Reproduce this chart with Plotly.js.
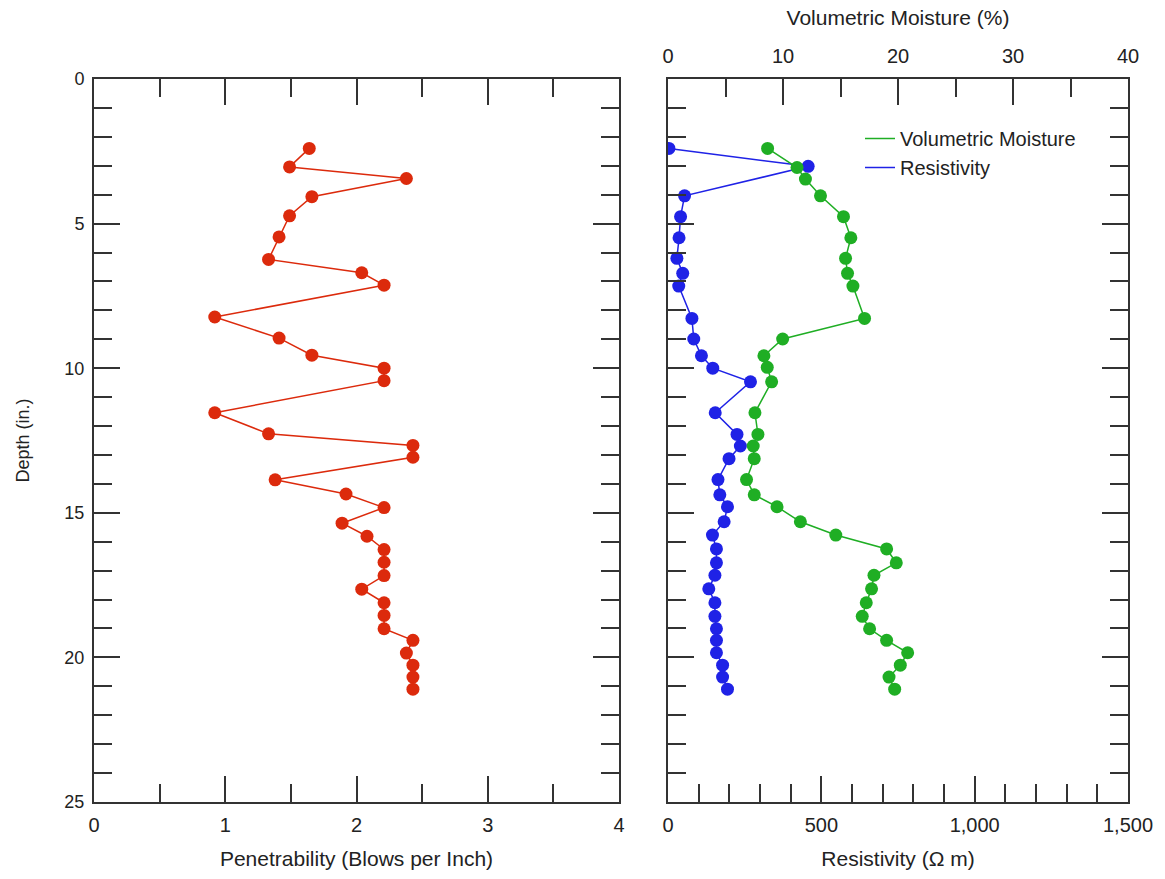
<!DOCTYPE html>
<html>
<head>
<meta charset="utf-8">
<script src="https://cdn.plot.ly/plotly-3.0.1.min.js"></script>
<style>html,body{margin:0;padding:0;background:#fff;}#chart{width:1165px;height:879px;}</style>
</head>
<body>
<div id="chart"></div>
<script>
// Penetrability (left panel)
const penDepth = [2.40, 3.04, 3.44, 4.07, 4.73, 5.46, 6.24, 6.70, 7.13, 8.23, 8.96, 9.55, 10.00, 10.43, 11.54, 12.27, 12.67, 13.08, 13.86, 14.35, 14.82, 15.36, 15.81, 16.27, 16.71, 17.17, 17.64, 18.11, 18.55, 19.01, 19.41, 19.85, 20.27, 20.68, 21.10];
const penetrability = [1.64, 1.49, 2.38, 1.66, 1.49, 1.41, 1.33, 2.04, 2.21, 0.92, 1.41, 1.66, 2.21, 2.21, 0.92, 1.33, 2.43, 2.43, 1.38, 1.92, 2.21, 1.89, 2.08, 2.21, 2.21, 2.21, 2.04, 2.21, 2.21, 2.21, 2.43, 2.38, 2.43, 2.43, 2.43];

// Volumetric moisture (right panel, top axis)
const moistDepth = [2.40, 3.06, 3.46, 4.04, 4.76, 5.49, 6.20, 6.72, 7.16, 8.28, 8.99, 9.57, 9.97, 10.47, 11.54, 12.29, 12.69, 13.13, 13.85, 14.38, 14.79, 15.31, 15.77, 16.25, 16.73, 17.16, 17.63, 18.11, 18.58, 19.01, 19.41, 19.84, 20.27, 20.68, 21.10];
const moisture = [8.66, 11.22, 11.95, 13.26, 15.26, 15.90, 15.44, 15.61, 16.08, 17.09, 9.97, 8.34, 8.63, 9.01, 7.56, 7.82, 7.41, 7.50, 6.83, 7.50, 9.48, 11.51, 14.59, 19.01, 19.85, 17.91, 17.70, 17.24, 16.89, 17.53, 19.01, 20.84, 20.20, 19.22, 19.71];

// Resistivity (right panel, bottom axis)
const resDepth = [2.40, 3.02, 4.04, 4.76, 5.49, 6.20, 6.72, 7.16, 8.28, 8.99, 9.57, 10.00, 10.47, 11.54, 12.29, 12.69, 13.13, 13.85, 14.38, 14.79, 15.31, 15.77, 16.25, 16.73, 17.16, 17.63, 18.11, 18.58, 19.01, 19.41, 19.84, 20.27, 20.68, 21.10];
const resistivity = [3, 457, 54, 41, 36, 29, 48, 35, 78, 84, 109, 146, 269, 154, 225, 236, 199, 163, 169, 194, 183, 145, 158, 158, 153, 133, 153, 153, 158, 158, 158, 178, 178, 194];

const RED = '#dc2a0c', GREEN = '#1fae24', BLUE = '#1f22e6', AX = '#333333';
const FAM = 'Liberation Sans, Arial, sans-serif';
const FONT = {family: FAM, size: 18, color: '#222'};
const XTICK = {family: FAM, size: 20, color: '#222'};
const XTITLE = {family: FAM, size: 21, color: '#222'};

const traces = [
  {x: penetrability, y: penDepth, xaxis: 'x', yaxis: 'y', mode: 'lines+markers', showlegend: false,
   line: {color: RED, width: 1.5}, marker: {color: RED, size: 13}},
  {x: moisture, y: moistDepth, xaxis: 'x3', yaxis: 'y2', mode: 'lines', name: 'Volumetric Moisture',
   line: {color: GREEN, width: 1.5}},
  {x: moisture, y: moistDepth, xaxis: 'x3', yaxis: 'y2', mode: 'markers', showlegend: false,
   marker: {color: GREEN, size: 13}},
  {x: resistivity, y: resDepth, xaxis: 'x2', yaxis: 'y2', mode: 'lines', name: 'Resistivity',
   line: {color: BLUE, width: 1.5}},
  {x: resistivity, y: resDepth, xaxis: 'x2', yaxis: 'y2', mode: 'markers', showlegend: false,
   marker: {color: BLUE, size: 13}}
];

const W = 1165, H = 879;
const yDom = [1 - 802 / H, 1 - 79 / H];
const common = {showline: true, linecolor: AX, linewidth: 2, ticks: 'inside', ticklen: 26, tickwidth: 2,
  tickcolor: AX, showgrid: false, zeroline: false, tickfont: FONT, fixedrange: true};
const minorCfg = (d) => ({dtick: d, ticks: 'inside', ticklen: 18, tickwidth: 2, tickcolor: AX, showgrid: false});

const layout = {
  width: W, height: H,
  margin: {l: 0, r: 0, t: 0, b: 0},
  paper_bgcolor: '#fff', plot_bgcolor: '#fff',
  font: FONT,
  showlegend: true,
  legend: {x: 860 / W, y: 1 - 119 / H, xanchor: 'left', yanchor: 'top', bgcolor: 'rgba(0,0,0,0)',
           font: {family: FAM, size: 20, color: '#222'}, tracegroupgap: 0},
  xaxis: Object.assign({}, common, {domain: [94 / W, 619 / W], range: [0, 4], dtick: 1, tick0: 0,
    mirror: 'ticks', anchor: 'y', minor: minorCfg(0.5), tickfont: XTICK, ticklabelstandoff: 4,
    title: {text: 'Penetrability (Blows per Inch)', font: XTITLE, standoff: 16}}),
  yaxis: Object.assign({}, common, {domain: yDom, range: [25, 0], dtick: 5, tick0: 0, mirror: 'ticks',
    anchor: 'x', minor: minorCfg(1), ticklabelstandoff: 4,
    title: {text: 'Depth (in.)', font: FONT, standoff: 30}}),
  xaxis2: Object.assign({}, common, {domain: [668 / W, 1128 / W], range: [0, 1500], dtick: 500, tick0: 0,
    anchor: 'y2', side: 'bottom', separatethousands: true, tickformat: ',d', minor: minorCfg(100),
    tickfont: XTICK, ticklabelstandoff: 4,
    title: {text: 'Resistivity (Ω m)', font: XTITLE, standoff: 16}}),
  xaxis3: Object.assign({}, common, {domain: [668 / W, 1128 / W], range: [0, 40], dtick: 10, tick0: 0,
    anchor: 'y2', overlaying: 'x2', side: 'top', minor: minorCfg(5), tickfont: XTICK, ticklabelstandoff: 6,
    title: {text: 'Volumetric Moisture (%)', font: XTITLE, standoff: 14}}),
  yaxis2: Object.assign({}, common, {domain: yDom, range: [25, 0], dtick: 5, tick0: 0, mirror: 'ticks',
    anchor: 'x2', showticklabels: false, minor: minorCfg(1)})
};

Plotly.newPlot('chart', traces, layout, {displayModeBar: false, staticPlot: true});
</script>
</body>
</html>
